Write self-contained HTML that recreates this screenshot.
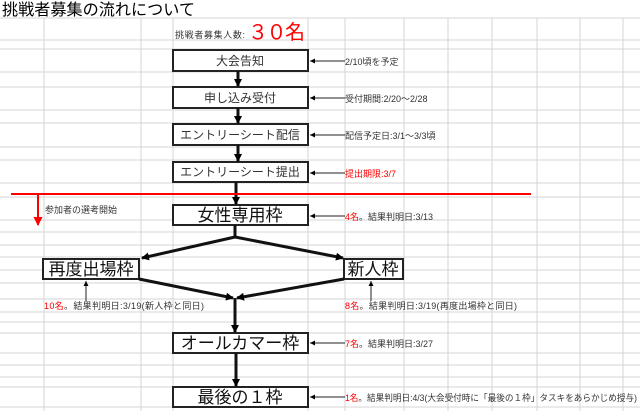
<!DOCTYPE html>
<html><head><meta charset="utf-8"><style>
html,body{margin:0;padding:0;background:#fff;}
svg{display:block;font-family:"Liberation Sans","Noto Sans CJK JP",sans-serif;}
</style></head><body>
<svg width="640" height="411" viewBox="0 0 640 411" xmlns="http://www.w3.org/2000/svg">
<defs>
<marker id="ah" markerWidth="8" markerHeight="8" refX="7" refY="4" orient="auto" markerUnits="userSpaceOnUse"><path d="M0,0 L8,4 L0,8 z" fill="#000"/></marker>
<marker id="as" markerWidth="5" markerHeight="5" refX="5" refY="2.5" orient="auto" markerUnits="userSpaceOnUse"><path d="M0,0 L5,2.5 L0,5 z" fill="#000"/></marker>
<marker id="ar" markerWidth="9" markerHeight="9" refX="8" refY="4.5" orient="auto" markerUnits="userSpaceOnUse"><path d="M0,0 L9,4.5 L0,9 z" fill="#f00"/></marker>
</defs>
<g stroke="#d4d4d4" stroke-width="1">
<path d="M44 18V411M141 18V411M173 18V411M308 18V411M345 18V411M404 18V411M448 18V411M492 18V411M537 18V411M580 18V411M623 18V411"/>
<path d="M0 18H640M0 40H640M0 49H640M0 72H640M0 87H640M0 110H640M0 123H640M0 147H640M0 160H640M0 183H640M0 197H640M0 220H640M0 232H640M0 245H640M0 257H640M0 270H640M0 283H640M0 299H640M0 312H640M0 322H640M0 333H640M0 353H640M0 365H640M0 377H640M0 387H640M0 407H640"/>
</g>
<text x="2" y="15" font-size="16" fill="#000" textLength="193" lengthAdjust="spacingAndGlyphs">挑戦者募集の流れについて</text>
<text x="175" y="38" font-size="9" fill="#333" textLength="70">挑戦者募集人数:</text>
<text x="248" y="39" font-size="20" fill="#f00" textLength="57">３０名</text>

<g fill="#fff" stroke="#222" stroke-width="2">
<rect x="173" y="50" width="135" height="21"/>
<rect x="173" y="87" width="135" height="21"/>
<rect x="173" y="124" width="135" height="21"/>
<rect x="173" y="162" width="135" height="20"/>
<rect x="173" y="205" width="135" height="20"/>
<rect x="43" y="259" width="96" height="20"/>
<rect x="344" y="259" width="59" height="20"/>
<rect x="173" y="333" width="135" height="20"/>
<rect x="173" y="387" width="135" height="20"/>
</g>
<g font-size="12" fill="#333" text-anchor="middle">
<text x="240" y="65">大会告知</text>
<text x="240" y="102">申し込み受付</text>
<text x="240" y="139">エントリーシート配信</text>
<text x="240" y="176">エントリーシート提出</text>
</g>
<g font-size="17" fill="#111" text-anchor="middle">
<text x="240" y="221">女性専用枠</text>
<text x="91" y="275">再度出場枠</text>
<text x="373" y="275">新人枠</text>
<text x="240" y="349">オールカマー枠</text>
<text x="240" y="403">最後の１枠</text>
</g>

<g stroke="#111" stroke-width="3" fill="none">
<line x1="238" y1="71" x2="238" y2="86" marker-end="url(#ah)"/>
<line x1="238" y1="108" x2="238" y2="123" marker-end="url(#ah)"/>
<line x1="238" y1="145" x2="238" y2="161" marker-end="url(#ah)"/>
<line x1="236" y1="182" x2="236" y2="204" marker-end="url(#ah)"/>
<polyline points="235,225 235,237"/>
<line x1="235" y1="237" x2="142" y2="258" marker-end="url(#ah)"/>
<line x1="235" y1="237" x2="343" y2="258" marker-end="url(#ah)"/>
<line x1="139" y1="279" x2="233" y2="298" marker-end="url(#ah)"/>
<line x1="344" y1="279" x2="237" y2="298" marker-end="url(#ah)"/>
<line x1="235" y1="298" x2="235" y2="332" marker-end="url(#ah)"/>
<line x1="236" y1="353" x2="236" y2="386" marker-end="url(#ah)"/>
</g>

<line x1="11" y1="194" x2="531" y2="194" stroke="#f00" stroke-width="2"/>
<line x1="38" y1="194" x2="38" y2="225" stroke="#f00" stroke-width="2" marker-end="url(#ar)"/>
<text x="45" y="213" font-size="9" fill="#333">参加者の選考開始</text>

<g stroke="#222" stroke-width="1">
<line x1="345" y1="61" x2="310" y2="61" marker-end="url(#as)"/>
<line x1="345" y1="98" x2="310" y2="98" marker-end="url(#as)"/>
<line x1="345" y1="135" x2="310" y2="135" marker-end="url(#as)"/>
<line x1="345" y1="173" x2="310" y2="173" marker-end="url(#as)"/>
<line x1="345" y1="216" x2="310" y2="216" marker-end="url(#as)"/>
<line x1="345" y1="343" x2="310" y2="343" marker-end="url(#as)"/>
<line x1="345" y1="397" x2="310" y2="397" marker-end="url(#as)"/>
<line x1="86" y1="301" x2="86" y2="281" marker-end="url(#as)"/>
<line x1="371" y1="301" x2="371" y2="281" marker-end="url(#as)"/>
</g>
<g font-size="9" fill="#333">
<text x="345" y="65">2/10頃を予定</text>
<text x="345" y="102">受付期間:2/20～2/28</text>
<text x="345" y="139">配信予定日:3/1～3/3頃</text>
<text x="345" y="177" fill="#f00">提出期限:3/7</text>
<text x="345" y="220"><tspan fill="#f00">4名</tspan>。結果判明日:3/13</text>
<text x="44" y="309" textLength="160"><tspan fill="#f00">10名</tspan>。結果判明日:3/19(新人枠と同日)</text>
<text x="345" y="309" textLength="172"><tspan fill="#f00">8名</tspan>。結果判明日:3/19(再度出場枠と同日)</text>
<text x="345" y="347"><tspan fill="#f00">7名</tspan>。結果判明日:3/27</text>
<text x="345" y="401" textLength="292" lengthAdjust="spacingAndGlyphs"><tspan fill="#f00">1名</tspan>。結果判明日:4/3(大会受付時に「最後の１枠」タスキをあらかじめ授与)</text>
</g>
</svg>
</body></html>
